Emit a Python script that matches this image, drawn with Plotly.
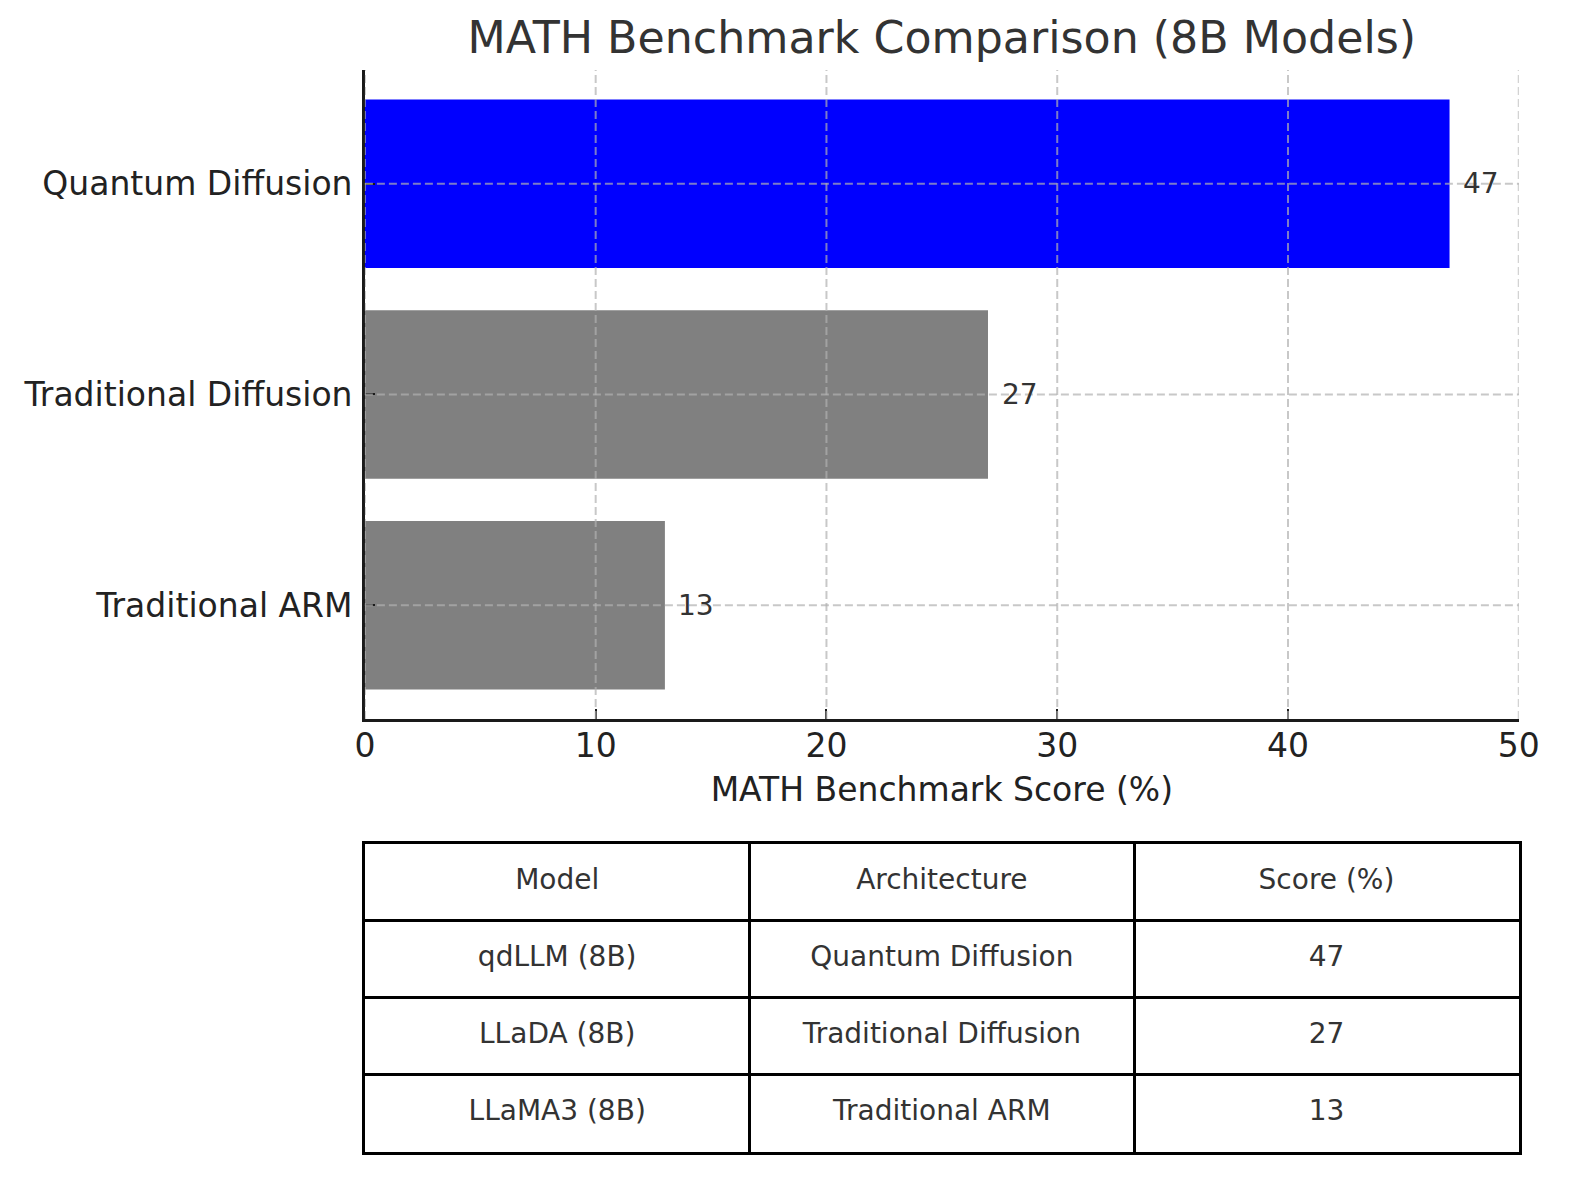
import plotly.graph_objects as go

# bar chart data (bottom to top)
architectures = ["Traditional ARM", "Traditional Diffusion", "Quantum Diffusion"]
scores = [13, 27, 47]
bar_colors = ["#808080", "#808080", "#0000ff"]

# table data
table_header = ["Model", "Architecture", "Score (%)"]
table_models = ["qdLLM (8B)", "LLaDA (8B)", "LLaMA3 (8B)"]
table_archs = ["Quantum Diffusion", "Traditional Diffusion", "Traditional ARM"]
table_scores = [47, 27, 13]

x_ticks = [0, 10, 20, 30, 40, 50]

FONT = "DejaVu Sans"
GRID = "rgba(176,176,176,0.7)"
X_DOMAIN = [0.22926, 0.97467]

fig = go.Figure()

fig.add_trace(go.Bar(
    x=scores, y=architectures, orientation="h", width=0.8,
    marker=dict(color=bar_colors, line=dict(width=0)),
    xaxis="x", yaxis="y", hoverinfo="skip",
))

# value labels next to the bars
for arch, val in zip(architectures, scores):
    fig.add_annotation(
        x=val + 0.5, y=arch, xref="x", yref="y", text=str(val),
        xanchor="left", yanchor="middle", showarrow=False,
        font=dict(family=FONT, size=28, color="#333333"),
    )

# dashed grid drawn on top of the bars (like matplotlib)
shapes = []
for xv in x_ticks:
    shapes.append(dict(type="line", xref="x", yref="y domain", x0=xv, x1=xv, y0=0, y1=1,
                       line=dict(color=GRID, width=2, dash="8px,4px"), layer="above"))
for arch in architectures:
    shapes.append(dict(type="line", xref="x domain", yref="y", x0=0, x1=1, y0=arch, y1=arch,
                       line=dict(color=GRID, width=2, dash="8px,4px"), layer="above"))

# table: text on a second pair of axes, gridlines act as cell borders
rows = [table_header] + [[m, a, str(s)] for m, a, s in zip(table_models, table_archs, table_scores)]
tx, ty, tt = [], [], []
for r, row in enumerate(rows):
    for c, cell in enumerate(row):
        tx.append(c + 0.5)
        ty.append(len(rows) - r - 0.5)
        tt.append(cell)
fig.add_trace(go.Scatter(
    x=tx, y=ty, text=tt, mode="text", textposition="middle center",
    textfont=dict(family=FONT, size=28, color="#333333"),
    xaxis="x2", yaxis="y2", hoverinfo="skip",
))

fig.update_layout(
    width=1579, height=1180,
    margin=dict(l=0, r=0, t=0, b=0),
    paper_bgcolor="white", plot_bgcolor="white",
    showlegend=False,
    font=dict(family=FONT, color="#222222"),
    title=dict(text="MATH Benchmark Comparison (8B Models)", x=sum(X_DOMAIN) / 2, xanchor="center",
               y=0.9686, yanchor="middle", xref="paper", yref="paper",
               font=dict(family=FONT, size=44.3, color="#333333")),
    xaxis=dict(domain=X_DOMAIN, range=[0, 50], tickvals=x_ticks,
               showgrid=False, zeroline=False, showline=True, linecolor="#1a1a1a", linewidth=2.5,
               ticks="inside", ticklen=10, tickwidth=2.2, tickcolor="#1a1a1a", layer="above traces",
               tickfont=dict(size=33, color="#222222"), ticklabelstandoff=-4,
               title=dict(text="MATH Benchmark Score (%)", font=dict(size=33, color="#222222"), standoff=14),
               anchor="y"),
    yaxis=dict(domain=[0.39068, 0.94068], range=[-0.54, 2.54], type="category",
               categoryorder="array", categoryarray=architectures,
               showgrid=False, zeroline=False, showline=True, linecolor="#1a1a1a", linewidth=2.5,
               ticks="inside", ticklen=10, tickwidth=2.2, tickcolor="#1a1a1a", layer="above traces",
               tickfont=dict(size=33, color="#222222"), ticklabelstandoff=3,
               anchor="x"),
    xaxis2=dict(domain=X_DOMAIN, range=[0, 3], dtick=1, tick0=0,
                showgrid=True, gridcolor="black", gridwidth=3, showticklabels=False, ticks="",
                zeroline=False, showline=True, mirror=True, linecolor="black", linewidth=3,
                anchor="y2", fixedrange=True),
    yaxis2=dict(domain=[0.02373, 0.28475], range=[0, 4], dtick=1, tick0=0,
                showgrid=True, gridcolor="black", gridwidth=3, showticklabels=False, ticks="",
                zeroline=False, showline=True, mirror=True, linecolor="black", linewidth=3,
                anchor="x2", fixedrange=True),
    shapes=shapes,
)

# drop the default page margin so the figure sits at the window origin
fig.write_html("out.html", config={"displayModeBar": False},
               post_script="document.body.style.margin='0px';document.body.style.overflow='hidden';")
